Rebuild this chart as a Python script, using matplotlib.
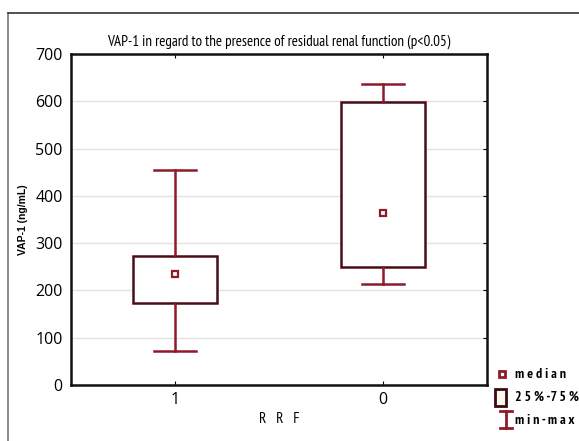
import matplotlib
matplotlib.use("Agg")
import matplotlib.pyplot as plt
from matplotlib.lines import Line2D
from matplotlib.patches import Rectangle

# data (ng/mL)
groups = ["1", "0"]
mins = [71, 214]
q1s = [173, 249]
medians = [234, 364]
q3s = [273, 598]
maxs = [454, 636]

yticks = [0, 100, 200, 300, 400, 500, 600, 700]
title = "VAP-1 in regard to the presence of residual renal function (p<0.05)"

plt.rcParams['font.family'] = ['Open Sans', 'DejaVu Sans']
narrow = ['PT Sans Narrow', 'DejaVu Sans']

box_col = "#4a0c16"
whisk_col = "#8e1b2b"

fig = plt.figure(figsize=(5.79, 4.41), dpi=100)
ax = fig.add_axes([0.1226, 0.127, 0.7185, 0.7506])

stats = []
for g, lo, a, m, b, hi in zip(groups, mins, q1s, medians, q3s, maxs):
    stats.append(dict(label=g, whislo=lo, q1=a, med=m, q3=b, whishi=hi, fliers=[]))

pos = list(range(1, len(groups) + 1))
ax.bxp(stats, positions=pos, widths=0.4, showfliers=False, patch_artist=True,
       boxprops=dict(facecolor="white", edgecolor=box_col, linewidth=1.8),
       whiskerprops=dict(color=whisk_col, linewidth=1.8),
       capprops=dict(color=whisk_col, linewidth=1.8),
       medianprops=dict(linestyle="none"), zorder=3)
ax.plot(pos, medians, linestyle="none", marker="s", markersize=5,
        markerfacecolor="white", markeredgecolor=whisk_col, markeredgewidth=1.6, zorder=4)

ax.set_xlim(0.5, 2.5)
ax.set_ylim(0, 700)
ax.set_yticks(yticks)
ax.set_xticks(pos)
ax.set_xticklabels(groups, fontsize=11.5)
ax.tick_params(axis="y", left=False, right=True, direction="in", length=3,
               labelsize=11.5, pad=6)
ax.tick_params(axis="x", top=True, bottom=True, direction="in", length=3, pad=5)
ax.yaxis.grid(True, color="#e2e2e2", linewidth=1)
ax.set_axisbelow(True)
for s in ax.spines.values():
    s.set_linewidth(1.8)
    s.set_color("#111111")

ax.set_ylabel("VAP-1 (ng/mL)", fontsize=7.5, fontweight="bold", family="Liberation Sans", labelpad=5)
ax.set_title(title, fontsize=10.8, pad=6, family=narrow)
ax.set_xlabel("R   R   F", fontsize=11, labelpad=3, family=narrow)

# outer frame lines
fig.add_artist(Line2D([8 / 579, 8 / 579], [0, 1 - 13 / 441], color="#777777", lw=1.2))
fig.add_artist(Line2D([8 / 579, 1], [1 - 13 / 441, 1 - 13 / 441], color="#333333", lw=1.2))

# legend outside, bottom right
W, H = 579, 441
fig.add_artist(Line2D([502 / W], [1 - 374 / H], marker="s", markersize=5,
                      markerfacecolor="white", markeredgecolor=whisk_col, markeredgewidth=2))
fig.add_artist(Rectangle((495 / W, 1 - 406 / H), 11 / W, 17 / H, facecolor="#fdf8ec",
                         edgecolor="#3a0a10", linewidth=2, transform=fig.transFigure))
fig.add_artist(Line2D([506 / W, 506 / W], [1 - 411 / H, 1 - 428 / H], color=whisk_col, lw=2))
fig.add_artist(Line2D([500 / W, 512 / W], [1 - 411 / H, 1 - 411 / H], color=whisk_col, lw=2))
fig.add_artist(Line2D([500 / W, 512 / W], [1 - 428 / H, 1 - 428 / H], color=whisk_col, lw=2))
for label, yy in [("m e d i a n", 375), ("2 5 % -7 5 %", 397), ("m i n - m a x", 420)]:
    fig.text(515 / W, 1 - yy / H, label, fontsize=10, fontweight="bold", va="center", ha="left",
             family=narrow)

fig.savefig("out.png", dpi=100)
